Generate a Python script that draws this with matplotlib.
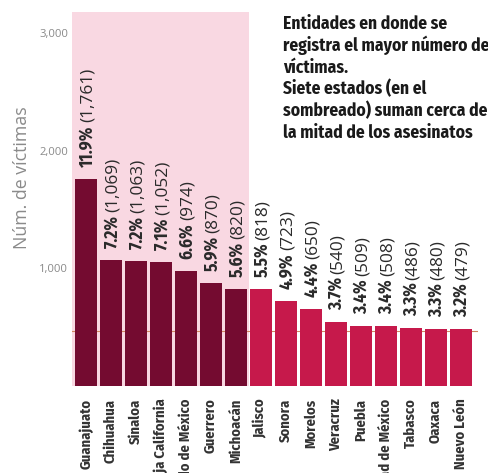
import matplotlib
matplotlib.use("Agg")
import matplotlib.pyplot as plt
from matplotlib import font_manager as fm
from matplotlib.font_manager import FontProperties

# ---------------- data ----------------
states = ["Guanajuato", "Chihuahua", "Sinaloa", "Baja California",
          "Estado de México", "Guerrero", "Michoacán", "Jalisco", "Sonora",
          "Morelos", "Veracruz", "Puebla", "Ciudad de México", "Tabasco",
          "Oaxaca", "Nuevo León"]
victims = [1761, 1069, 1063, 1052, 974, 870, 820, 818, 723, 650, 540, 509,
           508, 486, 480, 479]
percent = [11.9, 7.2, 7.2, 7.1, 6.6, 5.9, 5.6, 5.5, 4.9, 4.4, 3.7, 3.4,
           3.4, 3.3, 3.3, 3.2]
shaded_count = 7
y_ticks = [1000, 2000, 3000]
y_tick_labels = ["1,000", "2,000", "3,000"]
reference_value = 460
y_label = "Núm. de víctimas"
title_lines = ["Entidades en donde se",
               "registra el mayor número de",
               "víctimas.",
               "Siete estados (en el",
               "sombreado) suman cerca de",
               "la mitad de los asesinatos"]

# ---------------- fonts ----------------
PREF = ["Fira Sans Condensed", "Roboto Condensed", "Open Sans Condensed",
        "Liberation Sans Narrow", "DejaVu Sans", "Noto Sans", "Open Sans",
        "Roboto"]


def _w(f):
    w = f.weight
    if isinstance(w, str):
        w = fm.weight_dict.get(w, 400)
    return w


def _cond(f):
    st = f.stretch
    if isinstance(st, str):
        st = fm.stretch_dict.get(st, 500)
    return st < 500 or "Narrow" in f.name or "Condensed" in f.name


def find_font(bold, condensed=True):
    best, best_key = None, None
    for f in fm.fontManager.ttflist:
        if f.style != "normal":
            continue
        if condensed and not _cond(f):
            continue
        if f.name not in PREF:
            continue
        w = _w(f)
        target = 700 if bold else 400
        key = (PREF.index(f.name), abs(w - target))
        if bold and w < 600:
            continue
        if not bold and w > 500:
            continue
        if best_key is None or key < best_key:
            best, best_key = f, key
    if best is None:
        return FontProperties(family="Roboto",
                              weight="bold" if bold else "normal")
    return FontProperties(fname=best.fname)


fp_bold_c = find_font(True, True)
fp_reg = FontProperties(family="Open Sans")

# ---------------- figure ----------------
W, H, DPI = 489, 473, 100
fig = plt.figure(figsize=(W / DPI, H / DPI), dpi=DPI)
fig.patch.set_facecolor("white")

ax_left, ax_right, ax_top, ax_bottom = 72, 478.5, 12.5, 385.5
ax = fig.add_axes([ax_left / W, 1 - ax_bottom / H,
                   (ax_right - ax_left) / W, (ax_bottom - ax_top) / H])
ax.set_xlim(-0.56, 15.7)
ax.set_ylim(0, 3175)
for s in ax.spines.values():
    s.set_visible(False)

dark, light, shade = "#740b30", "#c6194b", "#f9d8e2"
ax.axvspan(-0.56, shaded_count - 0.5, color=shade, zorder=0, lw=0)
ax.axhline(reference_value, color="#d08860", lw=0.8, zorder=1)
x = list(range(len(states)))
colors = [dark if i < shaded_count else light for i in x]
ax.bar(x, victims, width=0.88, color=colors, zorder=2)

fig.canvas.draw()
r = fig.canvas.get_renderer()


def text_w(s, fp):
    w, h, d = r.get_text_width_height_descent(s, fp, ismath=False)
    return w


def fit(s, fp, target_px):
    f = fp.copy()
    f.set_size(10)
    w = text_w(s, f)
    f.set_size(10 * target_px / w)
    return f


px2pt = 72.0 / DPI

# y axis
fp_ytick = fit("1,000", fp_reg, 29)
ax.set_yticks(y_ticks)
ax.set_yticklabels(y_tick_labels, fontproperties=fp_ytick, color="#8a8a8a")
ax.tick_params(axis="y", length=0, pad=4 * px2pt)
fp_ylab = fit(y_label, fp_reg, 143)
fig.text(22 / W, 1 - 178 / H, y_label, rotation=90, ha="center",
         va="center", fontproperties=fp_ylab, color="#8a8a8a")

# x axis
fp_xtick = fit("Guanajuato", fp_bold_c, 70)
ax.set_xticks(x)
ax.set_xticklabels(states, rotation=90, fontproperties=fp_xtick,
                   color="#333333")
ax.tick_params(axis="x", length=0, pad=13 * px2pt)

# value labels
fb = fit(f"{percent[0]:.1f}%", fp_bold_c, 41)
fr = fit(f"({victims[0]:,})", fp_reg, 54)
pad_px = 12
for i, (v, p) in enumerate(zip(victims, percent)):
    sb = f"{p:.1f}%"
    sr = f"({v:,})"
    lb = text_w(sb, fb) + 3
    xoff = 0.36 * fb.get_size()
    ax.annotate(sb, xy=(i, v), xytext=(xoff, pad_px * px2pt),
                textcoords="offset points", rotation=90,
                rotation_mode="anchor", ha="left", va="baseline",
                fontproperties=fb, color="#2a2a2a", zorder=3)
    ax.annotate(sr, xy=(i, v),
                xytext=(xoff, (pad_px + lb) * px2pt),
                textcoords="offset points", rotation=90,
                rotation_mode="anchor", ha="left", va="baseline",
                fontproperties=fr, color="#2a2a2a", zorder=3)

# title
fp_title = fit(title_lines[0], fp_bold_c, 165)
for k, line in enumerate(title_lines):
    fig.text(283 / W, 1 - (29 + 21.8 * k) / H, line, ha="left",
             va="baseline", fontproperties=fp_title, color="#1a1a1a")

fig.savefig("out.png", dpi=DPI)
